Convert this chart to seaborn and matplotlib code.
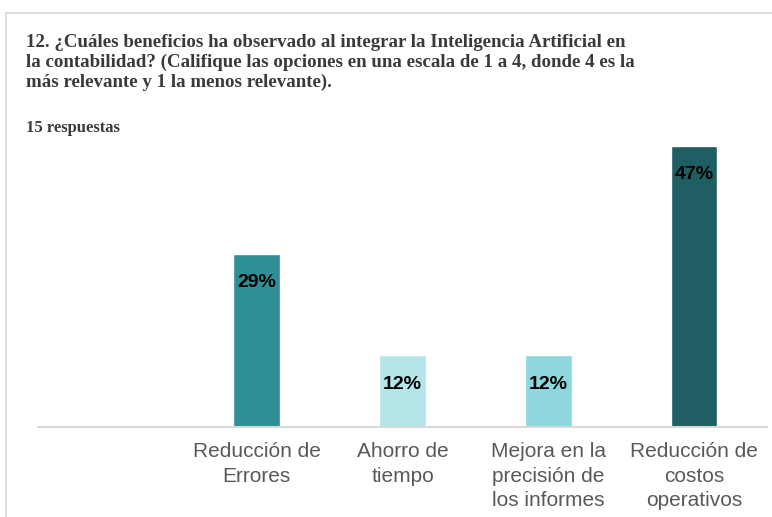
import numpy as np
import pandas as pd
import seaborn as sns
import matplotlib.pyplot as plt
from matplotlib.lines import Line2D

# =============================================================================
# Data
# =============================================================================

categories = [
    "Reducción de\nErrores",
    "Ahorro de\ntiempo",
    "Mejora en la\nprecisión de\nlos informes",
    "Reducción de\ncostos\noperativos",
]
shares = [0.29, 0.12, 0.12, 0.47]
bar_colors = ["#2E8F96", "#B5E4E9", "#8ED7DE", "#1F5E62"]

# empty first slot, as in the original sheet
slot_order = [""] + categories

title_text = (
    "12. ¿Cuáles beneficios ha observado al integrar la Inteligencia Artificial en\n"
    "la contabilidad? (Califique las opciones en una escala de 1 a 4, donde 4 es la\n"
    "más relevante y 1 la menos relevante)."
)
subtitle_text = "15 respuestas"

df = pd.DataFrame({"Beneficio": categories, "Porcentaje": shares})

# =============================================================================
# Plot
# =============================================================================

sns.set_style("white")
plt.rcParams["font.family"] = ["Liberation Sans", "DejaVu Sans"]

fig = plt.figure(figsize=(7.72, 5.17), dpi=100)
ax = fig.add_axes([38 / 772, 1 - 427 / 517, 729 / 772, 299 / 517])

sns.barplot(
    data=df,
    x="Beneficio",
    y="Porcentaje",
    hue="Beneficio",
    order=slot_order,
    hue_order=categories,
    palette=dict(zip(categories, bar_colors)),
    width=0.32,
    saturation=1,
    legend=False,
    ax=ax
)

for container in ax.containers:
    ax.bar_label(
        container,
        fmt=lambda v: f"{v:.0%}",
        padding=-27,
        fontsize=14,
        fontweight="bold",
        color="black"
    )

ax.set_ylim(0, 0.5)
ax.set_xlim(-0.5, len(slot_order) - 0.5)
ax.set_xlabel("")
ax.set_ylabel("")
ax.set_yticks([])

ax.tick_params(axis="x", length=0, pad=11, labelsize=15, labelcolor="#595959")
for lbl in ax.get_xticklabels():
    lbl.set_linespacing(1.35)

for side in ["top", "right", "left"]:
    ax.spines[side].set_visible(False)
ax.spines["bottom"].set_color("#D9D9D9")
ax.spines["bottom"].set_linewidth(1.5)

# chart frame (top and left edges visible)
fig.add_artist(Line2D([6 / 772, 1.0], [1 - 13 / 517] * 2, color="#D9D9D9", linewidth=1.2))
fig.add_artist(Line2D([6 / 772] * 2, [0.0, 1 - 13 / 517], color="#D9D9D9", linewidth=1.2))

fig.text(
    26 / 772, 1 - 34 / 517,
    title_text,
    family=["Liberation Serif", "DejaVu Serif"],
    fontweight="bold",
    fontsize=13.6,
    color="#3A3A3A",
    va="top",
    ha="left",
    linespacing=1.22
)

fig.text(
    26 / 772, 1 - 128 / 517,
    subtitle_text,
    family=["Liberation Serif", "DejaVu Serif"],
    fontweight="bold",
    fontsize=12,
    color="#3A3A3A",
    va="center",
    ha="left"
)

fig.savefig("out.png", dpi=100)
